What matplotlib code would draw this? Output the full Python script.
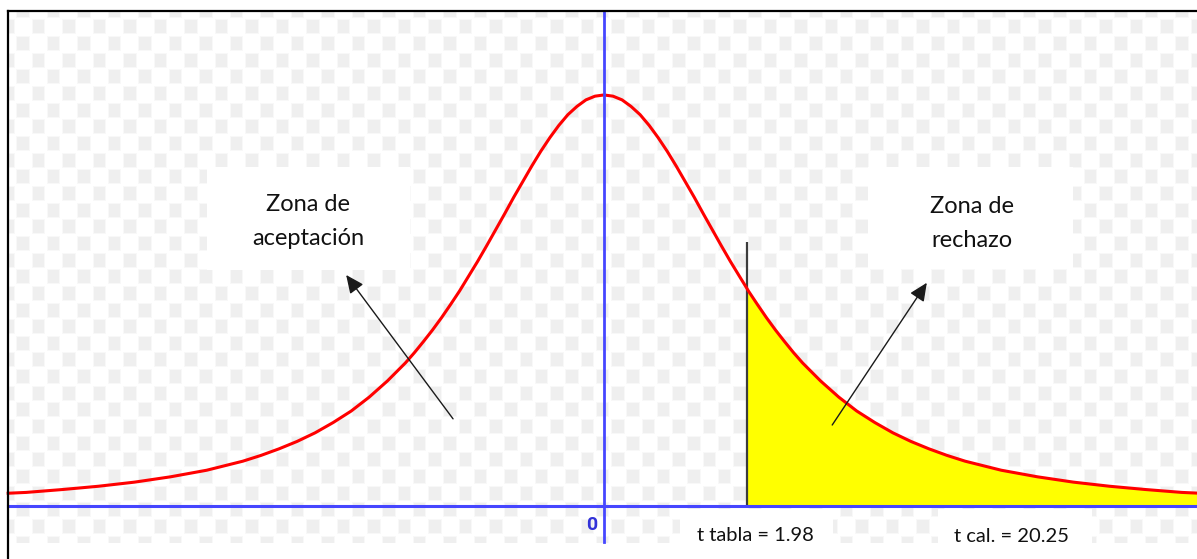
import numpy as np
from matplotlib import pyplot as plt
from matplotlib.patches import Rectangle
from matplotlib.lines import Line2D

plt.rcParams['font.family'] = ['Lato', 'DejaVu Sans']

### curve: t value and height of the curve (peak = 1)
t_vals = [-8.25, -8.0, -7.5, -7.0, -6.5, -6.0, -5.5, -5.25, -5.0, -4.75,
          -4.5, -4.25, -4.0, -3.75, -3.5, -3.25, -3.0, -2.75, -2.625, -2.5,
          -2.375, -2.25, -2.125, -2.0, -1.875, -1.75, -1.625, -1.5, -1.375, -1.25,
          -1.125, -1.0, -0.875, -0.75, -0.625, -0.5, -0.375, -0.25, -0.125,
          0.0, 0.125, 0.25, 0.375, 0.5, 0.625, 0.75, 0.875, 1.0, 1.125,
          1.25, 1.375, 1.5, 1.625, 1.75, 1.875, 1.98, 2.0, 2.125, 2.25,
          2.375, 2.5, 2.625, 2.75, 3.0, 3.25, 3.5, 3.75, 4.0, 4.25,
          4.5, 4.75, 5.0, 5.25, 5.5, 6.0, 6.5, 7.0, 7.5, 8.0, 8.25]
alturas = [0.031, 0.033, 0.040, 0.048, 0.058, 0.071, 0.087, 0.098, 0.109, 0.123,
           0.139, 0.157, 0.178, 0.203, 0.231, 0.265, 0.304, 0.348, 0.373, 0.400,
           0.428, 0.458, 0.490, 0.523, 0.559, 0.595, 0.633, 0.672, 0.711, 0.751,
           0.789, 0.827, 0.863, 0.896, 0.926, 0.952, 0.972, 0.988, 0.997,
           1.000, 0.997, 0.988, 0.972, 0.952, 0.926, 0.896, 0.863, 0.827, 0.789,
           0.751, 0.711, 0.672, 0.633, 0.595, 0.559, 0.529, 0.523, 0.490, 0.458,
           0.428, 0.400, 0.373, 0.348, 0.304, 0.265, 0.231, 0.203, 0.178, 0.157,
           0.139, 0.123, 0.109, 0.098, 0.087, 0.071, 0.058, 0.048, 0.040, 0.033, 0.031]

t_tabla = 1.98
t_cal = 20.25
zona_acept = ['Zona de', 'aceptación']
zona_rech = ['Zona de', 'rechazo']

W, H = 1197, 559


### the faint checker pattern behind everything (it's a png transparency grid)
def checker():
    yy, xx = np.mgrid[0:H, 0:W]
    r = np.floor((yy - 18) / 16.65)
    c = np.floor((xx - 15.5) / 15.25)
    fy = (yy - 18) - r * 16.65
    fx = (xx - 15.5) - c * 15.25
    odd = (r + c) % 2 == 1
    ring = odd & (fy >= 1) & (fy < 16) & (fx >= 0.5) & (fx < 14)
    inner = odd & (fy >= 2) & (fy < 15) & (fx >= 1.5) & (fx < 13)
    img = np.full((H, W), 255.0)
    img[ring] = 248
    img[inner] = 239
    # only inside the frame
    img[:12, :] = 255
    img[543:, :] = 255
    img[:, :9] = 255
    return np.dstack([img, img, img]).astype(np.uint8)


def plot_t():
    fig = plt.figure(figsize=(W / 100, H / 100), dpi=100)
    fig.figimage(checker(), 0, 0, zorder=-1)
    ax = fig.add_axes([0, 0, 1, 1])
    ax.axis('off')
    ax.set_xlim(-8.363, 8.211)
    ax.set_ylim(-0.129, 1.231)

    x = np.array(t_vals)
    y = np.array(alturas)

    # rejection zone
    ax.fill_between(x, y, 0, where=x >= t_tabla, color='#ffff00', lw=0, zorder=1)
    ax.vlines(t_tabla, 0, 0.642, color='#3c3c3c', lw=1.6, zorder=2)
    ax.plot(x, y, color='#ff0000', lw=2.2, zorder=3, solid_joinstyle='round')

    # blue axes
    ax.plot([-8.253, 8.3], [0, 0], color='#4646ff', lw=2.2, zorder=4)
    ax.plot([0, 0], [-0.088, 1.204], color='#4646ff', lw=2.0, zorder=4)
    ax.text(-0.166, -0.0584, '0', color='#3232d8', fontsize=14, fontweight='bold',
            family=['Roboto', 'DejaVu Sans'], ha='center', va='baseline', zorder=5)

    # white boxes with the zone names
    for x0, x1, y0, y1 in [(-5.497, -2.686, 0.574, 0.825), (3.655, 6.494, 0.579, 0.825),
                           (1.052, 3.171, -0.090, -0.007), (4.625, 6.757, -0.090, -0.007)]:
        ax.add_patch(Rectangle((x0, y0), x1 - x0, y1 - y0, facecolor='white',
                               edgecolor='none', zorder=1.5))

    for xc, lineas, bases in [(-4.094, zona_acept, (0.7165, 0.635)),
                              (5.10, zona_rech, (0.7136, 0.629))]:
        for txt, yb in zip(lineas, bases):
            ax.text(xc, yb, txt, fontsize=17, ha='center', va='baseline',
                    color='#111111', zorder=6)

    ax.text(2.091, -0.0852, 't tabla = {}'.format(t_tabla), fontsize=14.5,
            ha='center', va='baseline', color='#111111', zorder=6)
    ax.text(5.636, -0.0876, 't cal. = {}'.format(t_cal), fontsize=14.5,
            ha='center', va='baseline', color='#111111', zorder=6)

    # arrows
    aprops = dict(arrowstyle='-|>,head_length=0.55,head_width=0.25', color='#1a1a1a',
                  lw=1.0, mutation_scale=20, shrinkA=0, shrinkB=0)
    ax.annotate('', xy=(-3.57, 0.562), xytext=(-2.09, 0.212), arrowprops=aprops, zorder=7)
    ax.annotate('', xy=(4.47, 0.543), xytext=(3.16, 0.197), arrowprops=aprops, zorder=7)

    # frame of the original image (top and left only)
    fig.add_artist(Line2D([8 / W, 1], [1 - 11 / H] * 2, transform=fig.transFigure,
                          color='black', lw=1.6))
    fig.add_artist(Line2D([8 / W] * 2, [0, 1 - 11 / H], transform=fig.transFigure,
                          color='black', lw=1.6))

    fig.savefig('out.png', dpi=100)


if __name__ == '__main__':
    plot_t()
